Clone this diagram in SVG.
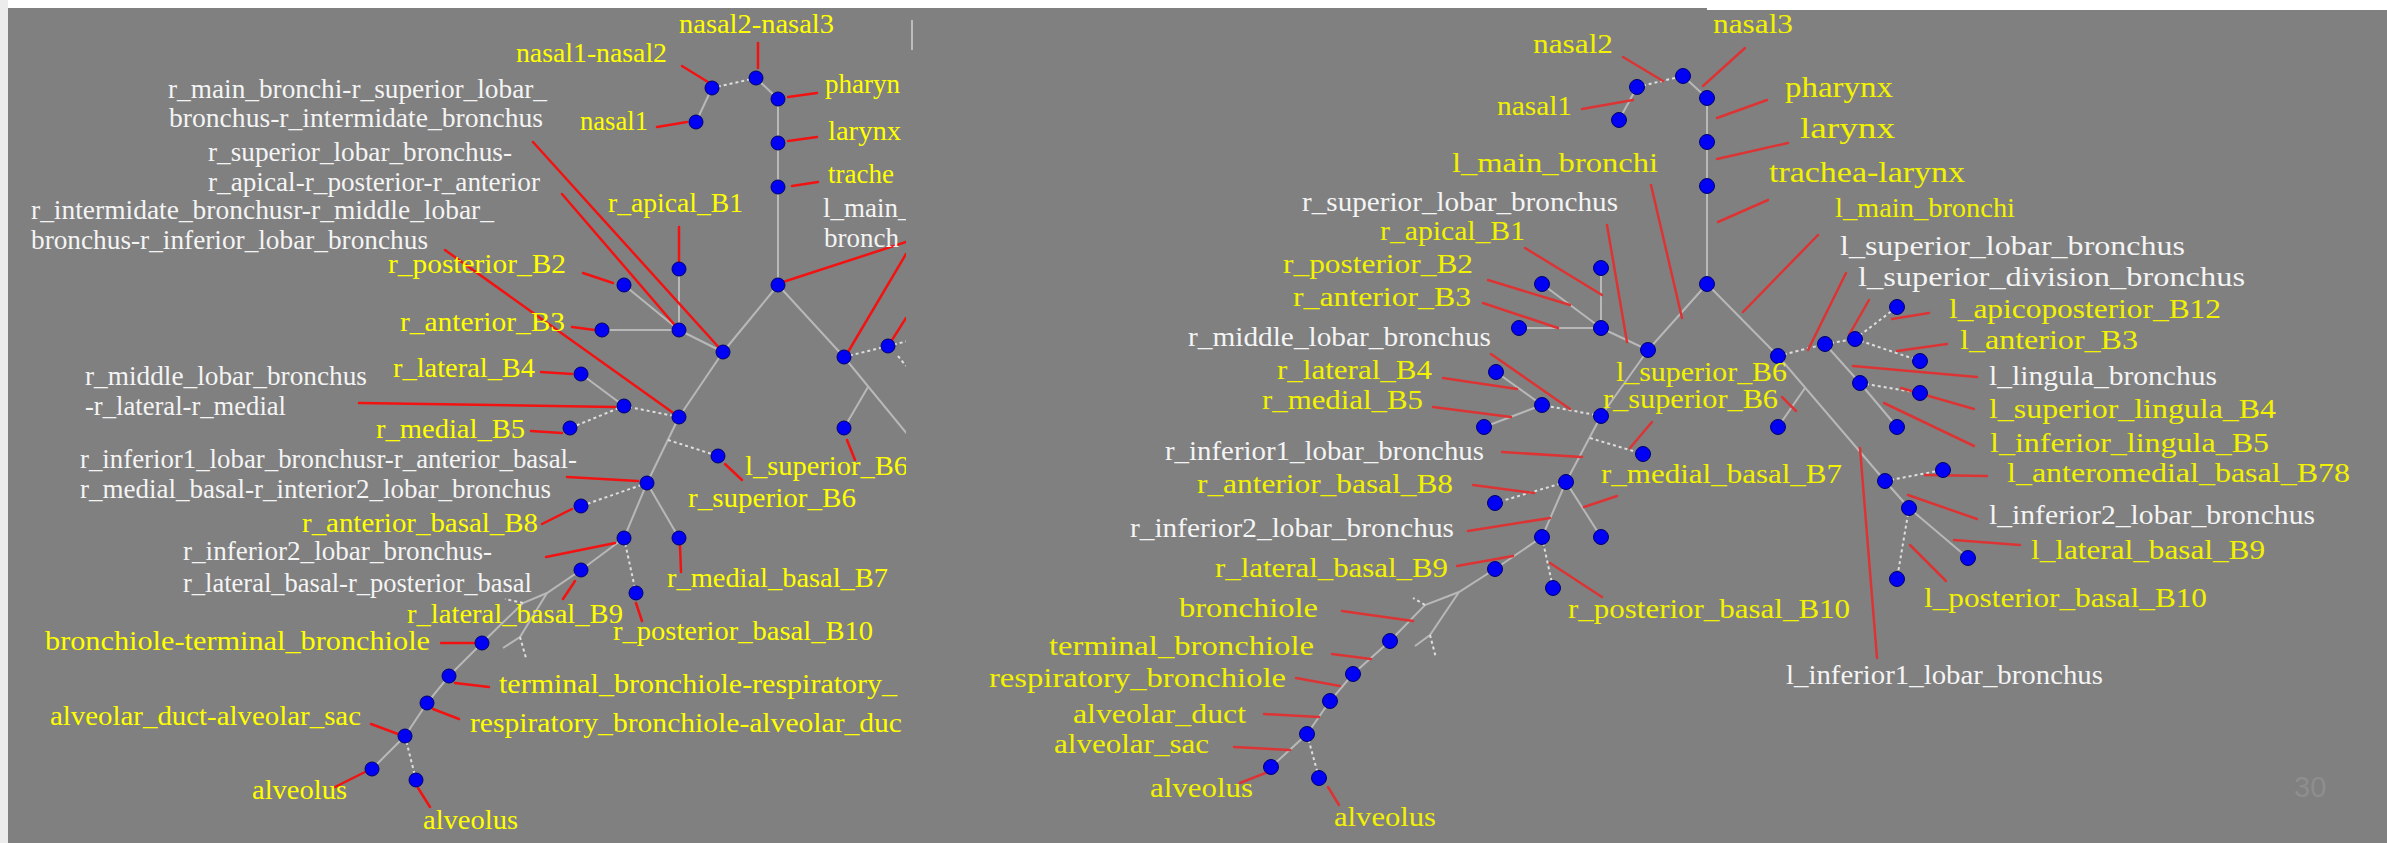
<svg xmlns="http://www.w3.org/2000/svg" width="2387" height="843" viewBox="0 0 2387 843">
<defs>
<style>
.e{stroke:#b8b8b8;stroke-width:2;fill:none}
.d{stroke:#dedede;stroke-width:2;stroke-dasharray:3 3;fill:none}
.r{stroke:#f21212;stroke-width:2.5;stroke-linecap:round}
.rr{stroke:#dc3434;stroke-width:2.5;stroke-linecap:round}
.n{fill:#0000f5;stroke:#00006e;stroke-width:1}
text{font-family:"Liberation Serif","Times New Roman",serif}
.L{font-size:27px}
.R{font-size:28px}
.B{font-size:30px}
.y{fill:#ffff00}
.ry{fill:#f2f200}
.w{fill:#f4f4f4}
</style>
<clipPath id="lp"><rect x="8" y="8" width="898" height="835"/></clipPath>
</defs>
<rect x="0" y="0" width="2387" height="843" fill="#ffffff"/>
<rect x="0" y="0" width="8" height="843" fill="#ececec"/>
<rect x="8" y="8" width="2379" height="835" fill="#808080"/>
<rect x="1707" y="0" width="680" height="10" fill="#ffffff"/>
<line x1="912" y1="20" x2="912" y2="50" stroke="#d0d0d0" stroke-width="1.5"/>

<g id="left-panel" clip-path="url(#lp)">
<g id="connectors-left">
<line class="e" x1="696" y1="122" x2="712" y2="88"/>
<line class="d" x1="712" y1="88" x2="756" y2="78"/>
<line class="e" x1="756" y1="78" x2="778" y2="99"/>
<line class="e" x1="778" y1="99" x2="778" y2="285"/>
<line class="e" x1="778" y1="285" x2="723" y2="352"/>
<line class="e" x1="778" y1="285" x2="844" y2="357"/>
<line class="e" x1="723" y1="352" x2="679" y2="330"/>
<line class="e" x1="679" y1="330" x2="679" y2="269"/>
<line class="e" x1="679" y1="330" x2="602" y2="330"/>
<line class="e" x1="679" y1="330" x2="624" y2="285"/>
<line class="e" x1="723" y1="352" x2="679" y2="417"/>
<line class="d" x1="679" y1="417" x2="624" y2="406"/>
<line class="e" x1="624" y1="406" x2="581" y2="374"/>
<line class="d" x1="624" y1="406" x2="570" y2="428"/>
<line class="e" x1="679" y1="417" x2="647" y2="483"/>
<line class="d" x1="668" y1="440" x2="718" y2="456"/>
<line class="d" x1="647" y1="483" x2="581" y2="506"/>
<line class="e" x1="647" y1="483" x2="624" y2="538"/>
<line class="e" x1="647" y1="483" x2="679" y2="538"/>
<line class="e" x1="624" y1="538" x2="581" y2="570"/>
<line class="d" x1="624" y1="538" x2="636" y2="593"/>
<polyline class="e" points="581,570 547,593 523,603 482,643 449,676 427,703 405,736 372,769"/>
<polyline class="e" points="547,593 520,637 503,648"/>
<line class="d" x1="520" y1="637" x2="526" y2="658"/>
<line class="d" x1="523" y1="603" x2="505" y2="599"/>
<line class="d" x1="405" y1="736" x2="416" y2="780"/>
<line class="d" x1="844" y1="357" x2="888" y2="346"/>
<line class="d" x1="888" y1="346" x2="908" y2="341"/>
<line class="e" x1="844" y1="357" x2="908" y2="435"/>
<line class="e" x1="868" y1="387" x2="844" y2="428"/>
<line class="d" x1="898" y1="356" x2="906" y2="366"/>
</g>
<g id="leaders-left">
<line class="r" x1="682" y1="66" x2="708" y2="82"/>
<line class="r" x1="758" y1="43" x2="758" y2="68"/>
<line class="r" x1="657" y1="127" x2="687" y2="122"/>
<line class="r" x1="788" y1="97" x2="817" y2="93"/>
<line class="r" x1="788" y1="141" x2="817" y2="137"/>
<line class="r" x1="792" y1="186" x2="818" y2="182"/>
<line class="r" x1="783" y1="282" x2="906" y2="242"/>
<line class="r" x1="848" y1="352" x2="906" y2="254"/>
<line class="r" x1="892" y1="340" x2="906" y2="318"/>
<line class="r" x1="533" y1="142" x2="723" y2="352"/>
<line class="r" x1="562" y1="194" x2="679" y2="330"/>
<line class="r" x1="445" y1="250" x2="679" y2="417"/>
<line class="r" x1="679" y1="227" x2="679" y2="262"/>
<line class="r" x1="583" y1="273" x2="613" y2="283"/>
<line class="r" x1="572" y1="327" x2="595" y2="330"/>
<line class="r" x1="541" y1="372" x2="572" y2="374"/>
<line class="r" x1="359" y1="403" x2="615" y2="407"/>
<line class="r" x1="531" y1="431" x2="562" y2="433"/>
<line class="r" x1="725" y1="464" x2="742" y2="480"/>
<line class="r" x1="847" y1="440" x2="855" y2="460"/>
<line class="r" x1="567" y1="477" x2="638" y2="481"/>
<line class="r" x1="542" y1="524" x2="572" y2="509"/>
<line class="r" x1="546" y1="557" x2="615" y2="543"/>
<line class="r" x1="680" y1="546" x2="681" y2="572"/>
<line class="r" x1="575" y1="581" x2="563" y2="599"/>
<line class="r" x1="636" y1="603" x2="642" y2="621"/>
<line class="r" x1="441" y1="643" x2="475" y2="643"/>
<line class="r" x1="455" y1="683" x2="489" y2="687"/>
<line class="r" x1="433" y1="709" x2="459" y2="719"/>
<line class="r" x1="371" y1="724" x2="398" y2="734"/>
<line class="r" x1="335" y1="787" x2="365" y2="772"/>
<line class="r" x1="418" y1="788" x2="430" y2="807"/>
</g>
<g id="L-nasal2-nasal3"><circle class="n" cx="756" cy="78" r="7"/><text class="L y" x="679" y="33" textLength="155" lengthAdjust="spacingAndGlyphs">nasal2-nasal3</text></g>
<g id="L-nasal1-nasal2"><circle class="n" cx="712" cy="88" r="7"/><text class="L y" x="516" y="62" textLength="151" lengthAdjust="spacingAndGlyphs">nasal1-nasal2</text></g>
<g id="L-nasal1"><circle class="n" cx="696" cy="122" r="7"/><text class="L y" x="580" y="130" textLength="68" lengthAdjust="spacingAndGlyphs">nasal1</text></g>
<g id="L-pharynx"><circle class="n" cx="778" cy="99" r="7"/><text class="L y" x="825" y="93">pharyn</text></g>
<g id="L-larynx"><circle class="n" cx="778" cy="143" r="7"/><text class="L y" x="828" y="140" textLength="73" lengthAdjust="spacingAndGlyphs">larynx</text></g>
<g id="L-trachea"><circle class="n" cx="778" cy="187" r="7"/><text class="L y" x="828" y="183">trache</text></g>
<g id="L-main"><circle class="n" cx="778" cy="285" r="7"/><text class="L w" x="823" y="217">l_main_</text><text class="L w" x="824" y="247">bronch</text></g>
<g id="L-r-main-bronchi"><circle class="n" cx="723" cy="352" r="7"/><text class="L w" x="168" y="98" textLength="379" lengthAdjust="spacingAndGlyphs">r_main_bronchi-r_superior_lobar_</text><text class="L w" x="169" y="127" textLength="374" lengthAdjust="spacingAndGlyphs">bronchus-r_intermidate_bronchus</text></g>
<g id="L-r-superior-lobar"><circle class="n" cx="679" cy="330" r="7"/><text class="L w" x="208" y="161" textLength="304" lengthAdjust="spacingAndGlyphs">r_superior_lobar_bronchus-</text><text class="L w" x="208" y="191" textLength="332" lengthAdjust="spacingAndGlyphs">r_apical-r_posterior-r_anterior</text></g>
<g id="L-r-apical"><circle class="n" cx="679" cy="269" r="7"/><text class="L y" x="608" y="212" textLength="135" lengthAdjust="spacingAndGlyphs">r_apical_B1</text></g>
<g id="L-r-posterior"><circle class="n" cx="624" cy="285" r="7"/><text class="L y" x="388" y="273" textLength="178" lengthAdjust="spacingAndGlyphs">r_posterior_B2</text></g>
<g id="L-r-anterior"><circle class="n" cx="602" cy="330" r="7"/><text class="L y" x="400" y="331" textLength="165" lengthAdjust="spacingAndGlyphs">r_anterior_B3</text></g>
<g id="L-r-intermidate"><circle class="n" cx="679" cy="417" r="7"/><text class="L w" x="31" y="219" textLength="463" lengthAdjust="spacingAndGlyphs">r_intermidate_bronchusr-r_middle_lobar_</text><text class="L w" x="31" y="249" textLength="397" lengthAdjust="spacingAndGlyphs">bronchus-r_inferior_lobar_bronchus</text></g>
<g id="L-r-middle-lobar"><circle class="n" cx="624" cy="406" r="7"/><text class="L w" x="85" y="385" textLength="282" lengthAdjust="spacingAndGlyphs">r_middle_lobar_bronchus</text><text class="L w" x="85" y="415" textLength="201" lengthAdjust="spacingAndGlyphs">-r_lateral-r_medial</text></g>
<g id="L-r-lateral"><circle class="n" cx="581" cy="374" r="7"/><text class="L y" x="393" y="377" textLength="142" lengthAdjust="spacingAndGlyphs">r_lateral_B4</text></g>
<g id="L-r-medial"><circle class="n" cx="570" cy="428" r="7"/><text class="L y" x="376" y="438" textLength="149" lengthAdjust="spacingAndGlyphs">r_medial_B5</text></g>
<g id="L-r-superior-B6"><circle class="n" cx="718" cy="456" r="7"/><text class="L y" x="688" y="507" textLength="168" lengthAdjust="spacingAndGlyphs">r_superior_B6</text></g>
<g id="L-r-inferior1"><circle class="n" cx="647" cy="483" r="7"/><text class="L w" x="80" y="468" textLength="497" lengthAdjust="spacingAndGlyphs">r_inferior1_lobar_bronchusr-r_anterior_basal-</text><text class="L w" x="80" y="498" textLength="471" lengthAdjust="spacingAndGlyphs">r_medial_basal-r_interior2_lobar_bronchus</text></g>
<g id="L-r-anterior-basal"><circle class="n" cx="581" cy="506" r="7"/><text class="L y" x="302" y="532" textLength="236" lengthAdjust="spacingAndGlyphs">r_anterior_basal_B8</text></g>
<g id="L-r-inferior2"><circle class="n" cx="624" cy="538" r="7"/><text class="L w" x="183" y="560" textLength="309" lengthAdjust="spacingAndGlyphs">r_inferior2_lobar_bronchus-</text><text class="L w" x="183" y="592" textLength="349" lengthAdjust="spacingAndGlyphs">r_lateral_basal-r_posterior_basal</text></g>
<g id="L-r-medial-basal"><circle class="n" cx="679" cy="538" r="7"/><text class="L y" x="667" y="587" textLength="221" lengthAdjust="spacingAndGlyphs">r_medial_basal_B7</text></g>
<g id="L-r-lateral-basal"><circle class="n" cx="581" cy="570" r="7"/><text class="L y" x="407" y="623" textLength="216" lengthAdjust="spacingAndGlyphs">r_lateral_basal_B9</text></g>
<g id="L-r-posterior-basal"><circle class="n" cx="636" cy="593" r="7"/><text class="L y" x="613" y="640" textLength="260" lengthAdjust="spacingAndGlyphs">r_posterior_basal_B10</text></g>
<g id="L-bronchiole"><circle class="n" cx="482" cy="643" r="7"/><text class="L y" x="45" y="650" textLength="385" lengthAdjust="spacingAndGlyphs">bronchiole-terminal_bronchiole</text></g>
<g id="L-terminal"><circle class="n" cx="449" cy="676" r="7"/><text class="L y" x="499" y="693" textLength="398" lengthAdjust="spacingAndGlyphs">terminal_bronchiole-respiratory_</text></g>
<g id="L-respiratory"><circle class="n" cx="427" cy="703" r="7"/><text class="L y" x="470" y="732" textLength="432" lengthAdjust="spacingAndGlyphs">respiratory_bronchiole-alveolar_duc</text></g>
<g id="L-alveolar-duct"><circle class="n" cx="405" cy="736" r="7"/><text class="L y" x="50" y="725" textLength="311" lengthAdjust="spacingAndGlyphs">alveolar_duct-alveolar_sac</text></g>
<g id="L-alveolus1"><circle class="n" cx="372" cy="769" r="7"/><text class="L y" x="252" y="799" textLength="95" lengthAdjust="spacingAndGlyphs">alveolus</text></g>
<g id="L-alveolus2"><circle class="n" cx="416" cy="780" r="7"/><text class="L y" x="423" y="829" textLength="95" lengthAdjust="spacingAndGlyphs">alveolus</text></g>
<g id="L-l-main"><circle class="n" cx="844" cy="357" r="7"/></g>
<g id="L-l-superior-lobar"><circle class="n" cx="888" cy="346" r="7"/></g>
<g id="L-l-superior-B6"><circle class="n" cx="844" cy="428" r="7"/><text class="L y" x="745" y="475" textLength="163" lengthAdjust="spacingAndGlyphs">l_superior_B6</text></g>
</g>

<g id="connectors-right">
<line class="e" x1="1619" y1="120" x2="1637" y2="87"/>
<line class="d" x1="1637" y1="87" x2="1683" y2="76"/>
<line class="e" x1="1683" y1="76" x2="1707" y2="98"/>
<line class="e" x1="1707" y1="98" x2="1707" y2="284"/>
<line class="e" x1="1707" y1="284" x2="1648" y2="350"/>
<line class="e" x1="1707" y1="284" x2="1778" y2="356"/>
<line class="e" x1="1648" y1="350" x2="1601" y2="328"/>
<line class="e" x1="1601" y1="328" x2="1601" y2="268"/>
<line class="e" x1="1601" y1="328" x2="1519" y2="328"/>
<line class="e" x1="1601" y1="328" x2="1542" y2="284"/>
<line class="e" x1="1648" y1="350" x2="1601" y2="416"/>
<line class="d" x1="1601" y1="416" x2="1542" y2="405"/>
<line class="e" x1="1542" y1="405" x2="1496" y2="372"/>
<line class="e" x1="1542" y1="405" x2="1484" y2="427"/>
<line class="e" x1="1601" y1="416" x2="1566" y2="482"/>
<line class="d" x1="1590" y1="438" x2="1643" y2="454"/>
<line class="d" x1="1566" y1="482" x2="1495" y2="503"/>
<line class="e" x1="1566" y1="482" x2="1542" y2="537"/>
<line class="e" x1="1566" y1="482" x2="1601" y2="537"/>
<line class="e" x1="1542" y1="537" x2="1495" y2="569"/>
<line class="d" x1="1542" y1="537" x2="1553" y2="588"/>
<polyline class="e" points="1495,569 1459,592 1425,605 1390,641 1353,674 1330,701 1307,734 1271,767"/>
<polyline class="e" points="1459,592 1430,635 1415,646"/>
<line class="d" x1="1430" y1="635" x2="1436" y2="658"/>
<line class="d" x1="1425" y1="605" x2="1413" y2="598"/>
<line class="d" x1="1307" y1="734" x2="1319" y2="778"/>
<line class="d" x1="1778" y1="356" x2="1825" y2="344"/>
<line class="d" x1="1825" y1="344" x2="1855" y2="339"/>
<line class="d" x1="1855" y1="339" x2="1897" y2="307"/>
<line class="d" x1="1855" y1="339" x2="1920" y2="361"/>
<line class="e" x1="1825" y1="344" x2="1860" y2="383"/>
<line class="d" x1="1860" y1="383" x2="1920" y2="393"/>
<line class="e" x1="1860" y1="383" x2="1897" y2="427"/>
<line class="e" x1="1778" y1="356" x2="1885" y2="481"/>
<line class="e" x1="1805" y1="388" x2="1778" y2="427"/>
<line class="d" x1="1885" y1="481" x2="1943" y2="470"/>
<line class="e" x1="1885" y1="481" x2="1909" y2="508"/>
<line class="e" x1="1909" y1="508" x2="1968" y2="558"/>
<line class="d" x1="1909" y1="508" x2="1897" y2="579"/>
</g>
<g id="leaders-right">
<line class="rr" x1="1623" y1="57" x2="1663" y2="81"/>
<line class="rr" x1="1745" y1="48" x2="1703" y2="86"/>
<line class="rr" x1="1582" y1="109" x2="1633" y2="100"/>
<line class="rr" x1="1767" y1="100" x2="1717" y2="118"/>
<line class="rr" x1="1788" y1="143" x2="1717" y2="159"/>
<line class="rr" x1="1768" y1="200" x2="1718" y2="222"/>
<line class="rr" x1="1651" y1="185" x2="1682" y2="318"/>
<line class="rr" x1="1818" y1="235" x2="1743" y2="312"/>
<line class="rr" x1="1607" y1="225" x2="1627" y2="342"/>
<line class="rr" x1="1525" y1="248" x2="1602" y2="295"/>
<line class="rr" x1="1488" y1="280" x2="1570" y2="305"/>
<line class="rr" x1="1483" y1="303" x2="1558" y2="328"/>
<line class="rr" x1="1491" y1="354" x2="1570" y2="409"/>
<line class="rr" x1="1443" y1="378" x2="1517" y2="389"/>
<line class="rr" x1="1433" y1="407" x2="1511" y2="417"/>
<line class="rr" x1="1502" y1="452" x2="1582" y2="457"/>
<line class="rr" x1="1473" y1="485" x2="1534" y2="493"/>
<line class="rr" x1="1468" y1="531" x2="1550" y2="518"/>
<line class="rr" x1="1457" y1="566" x2="1513" y2="556"/>
<line class="rr" x1="1630" y1="448" x2="1652" y2="422"/>
<line class="rr" x1="1782" y1="397" x2="1796" y2="411"/>
<line class="rr" x1="1584" y1="507" x2="1617" y2="496"/>
<line class="rr" x1="1550" y1="563" x2="1602" y2="597"/>
<line class="rr" x1="1846" y1="273" x2="1808" y2="350"/>
<line class="rr" x1="1869" y1="300" x2="1849" y2="335"/>
<line class="rr" x1="1929" y1="313" x2="1892" y2="319"/>
<line class="rr" x1="1947" y1="344" x2="1897" y2="351"/>
<line class="rr" x1="1977" y1="377" x2="1853" y2="366"/>
<line class="rr" x1="1974" y1="409" x2="1901" y2="388"/>
<line class="rr" x1="1974" y1="446" x2="1884" y2="403"/>
<line class="rr" x1="1987" y1="476" x2="1925" y2="475"/>
<line class="rr" x1="1977" y1="519" x2="1908" y2="495"/>
<line class="rr" x1="2020" y1="545" x2="1954" y2="540"/>
<line class="rr" x1="1946" y1="581" x2="1910" y2="545"/>
<line class="rr" x1="1877" y1="658" x2="1860" y2="448"/>
<line class="rr" x1="1342" y1="611" x2="1413" y2="621"/>
<line class="rr" x1="1332" y1="654" x2="1371" y2="659"/>
<line class="rr" x1="1296" y1="678" x2="1340" y2="686"/>
<line class="rr" x1="1264" y1="714" x2="1319" y2="717"/>
<line class="rr" x1="1234" y1="747" x2="1290" y2="750"/>
<line class="rr" x1="1240" y1="783" x2="1273" y2="770"/>
<line class="rr" x1="1328" y1="787" x2="1339" y2="805"/>
</g>

<g id="R-nasal1"><circle class="n" cx="1619" cy="120" r="7.5"/><text class="R ry" x="1497" y="115" textLength="75" lengthAdjust="spacingAndGlyphs">nasal1</text></g>
<g id="R-nasal2"><circle class="n" cx="1637" cy="87" r="7.5"/><text class="R ry" x="1533" y="53" textLength="80" lengthAdjust="spacingAndGlyphs">nasal2</text></g>
<g id="R-nasal3"><circle class="n" cx="1683" cy="76" r="7.5"/><text class="R ry" x="1713" y="33" textLength="80" lengthAdjust="spacingAndGlyphs">nasal3</text></g>
<g id="R-pharynx"><circle class="n" cx="1707" cy="98" r="7.5"/><text class="B ry" x="1785" y="97" textLength="108" lengthAdjust="spacingAndGlyphs">pharynx</text></g>
<g id="R-larynx"><circle class="n" cx="1707" cy="142" r="7.5"/><text class="B ry" x="1800" y="138" textLength="95" lengthAdjust="spacingAndGlyphs">larynx</text></g>
<g id="R-trachea"><circle class="n" cx="1707" cy="186" r="7.5"/><text class="B ry" x="1769" y="182" textLength="196" lengthAdjust="spacingAndGlyphs">trachea-larynx</text></g>
<g id="R-main"><circle class="n" cx="1707" cy="284" r="7.5"/><text class="R ry" x="1452" y="172" textLength="206" lengthAdjust="spacingAndGlyphs">l_main_bronchi</text><text class="R ry" x="1835" y="217" textLength="180" lengthAdjust="spacingAndGlyphs">l_main_bronchi</text></g>
<g id="R-r-superior-lobar"><circle class="n" cx="1601" cy="328" r="7.5"/><text class="R w" x="1302" y="211" textLength="316" lengthAdjust="spacingAndGlyphs">r_superior_lobar_bronchus</text></g>
<g id="R-r-main"><circle class="n" cx="1648" cy="350" r="7.5"/></g>
<g id="R-r-apical"><circle class="n" cx="1601" cy="268" r="7.5"/><text class="R ry" x="1380" y="240" textLength="145" lengthAdjust="spacingAndGlyphs">r_apical_B1</text></g>
<g id="R-r-posterior"><circle class="n" cx="1542" cy="284" r="7.5"/><text class="R ry" x="1283" y="273" textLength="190" lengthAdjust="spacingAndGlyphs">r_posterior_B2</text></g>
<g id="R-r-anterior"><circle class="n" cx="1519" cy="328" r="7.5"/><text class="R ry" x="1293" y="306" textLength="178" lengthAdjust="spacingAndGlyphs">r_anterior_B3</text></g>
<g id="R-r-middle-lobar"><circle class="n" cx="1542" cy="405" r="7.5"/><text class="R w" x="1188" y="346" textLength="303" lengthAdjust="spacingAndGlyphs">r_middle_lobar_bronchus</text></g>
<g id="R-r-lateral"><circle class="n" cx="1496" cy="372" r="7.5"/><text class="R ry" x="1277" y="379" textLength="155" lengthAdjust="spacingAndGlyphs">r_lateral_B4</text></g>
<g id="R-r-medial"><circle class="n" cx="1484" cy="427" r="7.5"/><text class="R ry" x="1262" y="409" textLength="161" lengthAdjust="spacingAndGlyphs">r_medial_B5</text></g>
<g id="R-r-intermidate"><circle class="n" cx="1601" cy="416" r="7.5"/></g>
<g id="R-r-superior-B6"><circle class="n" cx="1643" cy="454" r="7.5"/><text class="R ry" x="1603" y="408" textLength="175" lengthAdjust="spacingAndGlyphs">r_superior_B6</text></g>
<g id="R-r-inferior1"><circle class="n" cx="1566" cy="482" r="7.5"/><text class="R w" x="1165" y="460" textLength="319" lengthAdjust="spacingAndGlyphs">r_inferior1_lobar_bronchus</text></g>
<g id="R-r-anterior-basal"><circle class="n" cx="1495" cy="503" r="7.5"/><text class="R ry" x="1197" y="493" textLength="256" lengthAdjust="spacingAndGlyphs">r_anterior_basal_B8</text></g>
<g id="R-r-inferior2"><circle class="n" cx="1542" cy="537" r="7.5"/><text class="R w" x="1130" y="537" textLength="324" lengthAdjust="spacingAndGlyphs">r_inferior2_lobar_bronchus</text></g>
<g id="R-r-medial-basal"><circle class="n" cx="1601" cy="537" r="7.5"/><text class="R ry" x="1601" y="483" textLength="241" lengthAdjust="spacingAndGlyphs">r_medial_basal_B7</text></g>
<g id="R-r-lateral-basal"><circle class="n" cx="1495" cy="569" r="7.5"/><text class="R ry" x="1215" y="577" textLength="233" lengthAdjust="spacingAndGlyphs">r_lateral_basal_B9</text></g>
<g id="R-r-posterior-basal"><circle class="n" cx="1553" cy="588" r="7.5"/><text class="R ry" x="1568" y="618" textLength="282" lengthAdjust="spacingAndGlyphs">r_posterior_basal_B10</text></g>
<g id="R-bronchiole"><circle class="n" cx="1390" cy="641" r="7.5"/><text class="R ry" x="1179" y="617" textLength="139" lengthAdjust="spacingAndGlyphs">bronchiole</text></g>
<g id="R-terminal"><circle class="n" cx="1353" cy="674" r="7.5"/><text class="R ry" x="1049" y="655" textLength="265" lengthAdjust="spacingAndGlyphs">terminal_bronchiole</text></g>
<g id="R-respiratory"><circle class="n" cx="1330" cy="701" r="7.5"/><text class="R ry" x="989" y="687" textLength="297" lengthAdjust="spacingAndGlyphs">respiratory_bronchiole</text></g>
<g id="R-alveolar-duct"><circle class="n" cx="1307" cy="734" r="7.5"/><text class="R ry" x="1073" y="723" textLength="173" lengthAdjust="spacingAndGlyphs">alveolar_duct</text><text class="R ry" x="1054" y="753" textLength="155" lengthAdjust="spacingAndGlyphs">alveolar_sac</text></g>
<g id="R-alveolus1"><circle class="n" cx="1271" cy="767" r="7.5"/><text class="R ry" x="1150" y="797" textLength="103" lengthAdjust="spacingAndGlyphs">alveolus</text></g>
<g id="R-alveolus2"><circle class="n" cx="1319" cy="778" r="7.5"/><text class="R ry" x="1334" y="826" textLength="102" lengthAdjust="spacingAndGlyphs">alveolus</text></g>
<g id="R-l-main"><circle class="n" cx="1778" cy="356" r="7.5"/><text class="R w" x="1840" y="255" textLength="345" lengthAdjust="spacingAndGlyphs">l_superior_lobar_bronchus</text></g>
<g id="R-l-superior-lobar"><circle class="n" cx="1825" cy="344" r="7.5"/><text class="R w" x="1858" y="286" textLength="387" lengthAdjust="spacingAndGlyphs">l_superior_division_bronchus</text></g>
<g id="R-l-division"><circle class="n" cx="1855" cy="339" r="7.5"/></g>
<g id="R-l-apicoposterior"><circle class="n" cx="1897" cy="307" r="7.5"/><text class="R ry" x="1949" y="318" textLength="272" lengthAdjust="spacingAndGlyphs">l_apicoposterior_B12</text></g>
<g id="R-l-anterior"><circle class="n" cx="1920" cy="361" r="7.5"/><text class="R ry" x="1960" y="349" textLength="178" lengthAdjust="spacingAndGlyphs">l_anterior_B3</text></g>
<g id="R-l-lingula"><circle class="n" cx="1860" cy="383" r="7.5"/><text class="R w" x="1989" y="385" textLength="228" lengthAdjust="spacingAndGlyphs">l_lingula_bronchus</text></g>
<g id="R-l-superior-lingula"><circle class="n" cx="1920" cy="393" r="7.5"/><text class="R ry" x="1989" y="418" textLength="287" lengthAdjust="spacingAndGlyphs">l_superior_lingula_B4</text></g>
<g id="R-l-inferior-lingula"><circle class="n" cx="1897" cy="427" r="7.5"/><text class="R ry" x="1990" y="452" textLength="279" lengthAdjust="spacingAndGlyphs">l_inferior_lingula_B5</text></g>
<g id="R-l-superior-B6"><circle class="n" cx="1778" cy="427" r="7.5"/><text class="R ry" x="1616" y="381" textLength="171" lengthAdjust="spacingAndGlyphs">l_superior_B6</text></g>
<g id="R-l-inferior1"><circle class="n" cx="1885" cy="481" r="7.5"/><text class="R w" x="1786" y="684" textLength="317" lengthAdjust="spacingAndGlyphs">l_inferior1_lobar_bronchus</text></g>
<g id="R-l-anteromedial"><circle class="n" cx="1943" cy="470" r="7.5"/><text class="R ry" x="2007" y="482" textLength="343" lengthAdjust="spacingAndGlyphs">l_anteromedial_basal_B78</text></g>
<g id="R-l-inferior2"><circle class="n" cx="1909" cy="508" r="7.5"/><text class="R w" x="1989" y="524" textLength="326" lengthAdjust="spacingAndGlyphs">l_inferior2_lobar_bronchus</text></g>
<g id="R-l-lateral-basal"><circle class="n" cx="1968" cy="558" r="7.5"/><text class="R ry" x="2031" y="559" textLength="234" lengthAdjust="spacingAndGlyphs">l_lateral_basal_B9</text></g>
<g id="R-l-posterior-basal"><circle class="n" cx="1897" cy="579" r="7.5"/><text class="R ry" x="1924" y="607" textLength="283" lengthAdjust="spacingAndGlyphs">l_posterior_basal_B10</text></g>
<text x="2294" y="797" font-family="'Liberation Sans','Open Sans',sans-serif" font-size="29" fill="#8e8e8e" style="font-family:'Liberation Sans','Open Sans',sans-serif">30</text>
</svg>
